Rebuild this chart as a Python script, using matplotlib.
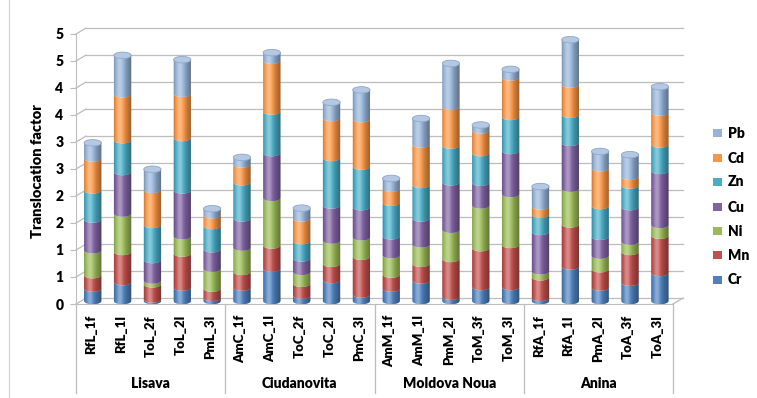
import numpy as np
import matplotlib.pyplot as plt
from matplotlib.patches import Ellipse, Polygon, Rectangle
from matplotlib.lines import Line2D
from matplotlib.ticker import FuncFormatter

plt.rcParams['font.family'] = ['Lato', 'DejaVu Sans']
plt.rcParams['font.weight'] = 'bold'

# ------------------------------------------------------------- data
samples = ["RfL_1f", "RfL_1l", "ToL_2f", "ToL_2l", "PmL_3l",
           "AmC_1f", "AmC_1l", "ToC_2f", "ToC_2l", "PmC_3l",
           "AmM_1f", "AmM_1l", "PmM_2l", "ToM_3f", "ToM_3l",
           "RfA_1f", "RfA_1l", "PmA_2l", "ToA_3f", "ToA_3l"]
sites = ["Lisava", "Ciudanovita", "Moldova Noua", "Anina"]
metals = ["Cr", "Mn", "Ni", "Cu", "Zn", "Cd", "Pb"]

cr = [0.23, 0.35, 0.03, 0.25, 0.06, 0.25, 0.60, 0.10, 0.39, 0.12,
      0.23, 0.38, 0.08, 0.26, 0.26, 0.06, 0.64, 0.25, 0.34, 0.52]
mn = [0.25, 0.56, 0.28, 0.63, 0.17, 0.29, 0.43, 0.22, 0.30, 0.70,
      0.26, 0.31, 0.70, 0.72, 0.78, 0.38, 0.78, 0.34, 0.57, 0.69]
ni = [0.46, 0.71, 0.07, 0.32, 0.37, 0.45, 0.88, 0.22, 0.43, 0.36,
      0.36, 0.36, 0.54, 0.79, 0.94, 0.11, 0.66, 0.25, 0.19, 0.20]
cu = [0.57, 0.77, 0.38, 0.85, 0.36, 0.54, 0.83, 0.25, 0.65, 0.56,
      0.35, 0.48, 0.88, 0.42, 0.80, 0.73, 0.85, 0.35, 0.64, 1.00]
zn = [0.54, 0.59, 0.65, 0.97, 0.43, 0.67, 0.77, 0.32, 0.88, 0.75,
      0.62, 0.62, 0.68, 0.55, 0.63, 0.32, 0.52, 0.57, 0.40, 0.49]
cd = [0.59, 0.85, 0.65, 0.82, 0.20, 0.33, 0.94, 0.42, 0.74, 0.88,
      0.26, 0.75, 0.72, 0.42, 0.73, 0.15, 0.56, 0.70, 0.16, 0.59]
pb = [0.29, 0.72, 0.38, 0.63, 0.12, 0.13, 0.15, 0.19, 0.29, 0.54,
      0.19, 0.48, 0.80, 0.10, 0.15, 0.37, 0.83, 0.31, 0.41, 0.48]

series = [cr, mn, ni, cu, zn, cd, pb]
colors = ["#4F81BD", "#C0504D", "#9BBB59", "#8064A2", "#4BACC6", "#F79646", "#95B3D7"]

# ------------------------------------------------------------- figure / axes (pixel layout)
W, H = 757, 398
fig = plt.figure(figsize=(W / 100, H / 100), dpi=100)
ax_l, ax_r, ax_b, ax_t = 76, 673, 304, 34
ax = fig.add_axes([ax_l / W, 1 - ax_b / H, (ax_r - ax_l) / W, (ax_b - ax_t) / H])
ax.set_facecolor("none")

n = len(samples)
DX, DY = 0.335, 0.11      # depth offset of the back wall (data units)
BW = 0.58                 # cylinder width
EH = 0.12                 # ellipse height
grid_c = "#BDBDBD"

# back wall gridlines + left wall slants
for v in np.arange(0, 5.01, 0.5):
    ax.plot([-0.5 + DX, n - 0.5 + DX], [v + DY, v + DY], color=grid_c, lw=0.9, clip_on=False, zorder=0)
    ax.plot([-0.5, -0.5 + DX], [v, v + DY], color=grid_c, lw=0.9, clip_on=False, zorder=0)
# floor right edge
ax.plot([n - 0.5, n - 0.5 + DX], [0, DY], color=grid_c, lw=0.9, clip_on=False, zorder=0)


def arc(xc, y, reverse=False):
    xs = np.linspace(xc - BW / 2, xc + BW / 2, 40)
    ys = y - EH / 2 * np.sqrt(np.clip(1 - ((xs - xc) / (BW / 2)) ** 2, 0, 1))
    pts = np.column_stack([xs, ys])
    return pts[::-1] if reverse else pts


# lighting across a cylinder
t = np.linspace(0, 1, 60)
light = 0.40 * np.exp(-((t - 0.33) / 0.2) ** 2)
shade = 0.40 * t ** 2.2 + 0.2 * (1 - t) ** 6
a = light - shade
grad = np.zeros((1, len(t), 4))
grad[0, :, :3] = np.where(a[:, None] > 0, 1.0, 0.0)
grad[0, :, 3] = np.abs(a)

base = DY * 0.5
for i in range(n):
    xc = i + 0.06
    y0 = base
    for k, vals in enumerate(series):
        y1 = y0 + vals[i]
        seg = Polygon(np.vstack([arc(xc, y0), arc(xc, y1, reverse=True)]),
                      closed=True, facecolor=colors[k], edgecolor="none", zorder=3)
        ax.add_patch(seg)
        y0 = y1
    body = Polygon(np.vstack([arc(xc, base), [[xc + BW / 2, y0], [xc - BW / 2, y0]]]),
                   closed=True, facecolor="none", edgecolor="none", zorder=3)
    ax.add_patch(body)
    im = ax.imshow(grad, extent=(xc - BW / 2, xc + BW / 2, base - EH, y0), aspect="auto",
                   interpolation="bilinear", zorder=4)
    im.set_clip_path(body)
    cap = Ellipse((xc, y0), BW, EH, facecolor="#B4C8E4", edgecolor="#8EA6C8", lw=0.6, zorder=5)
    ax.add_patch(cap)

ax.set_xlim(-0.5, n - 0.5)
ax.set_ylim(0, 5)

# ------------------------------------------------------------- axes styling
for s in ["top", "right"]:
    ax.spines[s].set_visible(False)
ax.spines["left"].set_color(grid_c)
ax.spines["bottom"].set_color(grid_c)
ax.set_yticks(np.arange(0, 5.01, 0.5))
ax.yaxis.set_major_formatter(FuncFormatter(lambda v, _: str(int(np.floor(v + 0.5)))))
ax.tick_params(axis="y", length=4, color=grid_c, labelsize=10, pad=5)
ax.set_xticks(range(n))
ax.set_xticklabels(samples, rotation=90, fontsize=9.5)
ax.tick_params(axis="x", length=0, pad=8)
for lab in ax.get_yticklabels() + ax.get_xticklabels():
    lab.set_fontweight("heavy")

# category group separators and names
tr = ax.get_xaxis_transform()
sep_bottom = -(393 - ax_b) / (ax_b - ax_t)
for b in [-0.5, 4.5, 9.5, 14.5, 19.5]:
    ax.plot([b, b], [0, sep_bottom], color=grid_c, lw=0.9, transform=tr, clip_on=False)
for g, name in enumerate(sites):
    ax.text(g * 5 + 2, -(384 - ax_b) / (ax_b - ax_t), name, transform=tr,
            ha="center", va="center", fontsize=10, fontweight="heavy")

fig.text(38 / W, 1 - 171 / H, "Translocation factor", rotation=90, ha="center", va="center",
         fontsize=10.5, fontweight="heavy")

# legend (Pb on top)
leg_y = [280, 255, 231, 207, 182, 158, 133]
for k, name in enumerate(metals):
    y = leg_y[k]
    fig.add_artist(Rectangle((713 / W, 1 - (y + 4) / H), 9 / W, 8 / H,
                             transform=fig.transFigure, facecolor=colors[k], edgecolor="none"))
    fig.text(728 / W, 1 - y / H, name, ha="left", va="center", fontsize=10, fontweight="heavy")

# chart area border on the left
fig.add_artist(Line2D([9 / W, 9 / W], [0, 1], transform=fig.transFigure, color="#D0D0D0", lw=0.8))

fig.savefig("out.png", dpi=100)
